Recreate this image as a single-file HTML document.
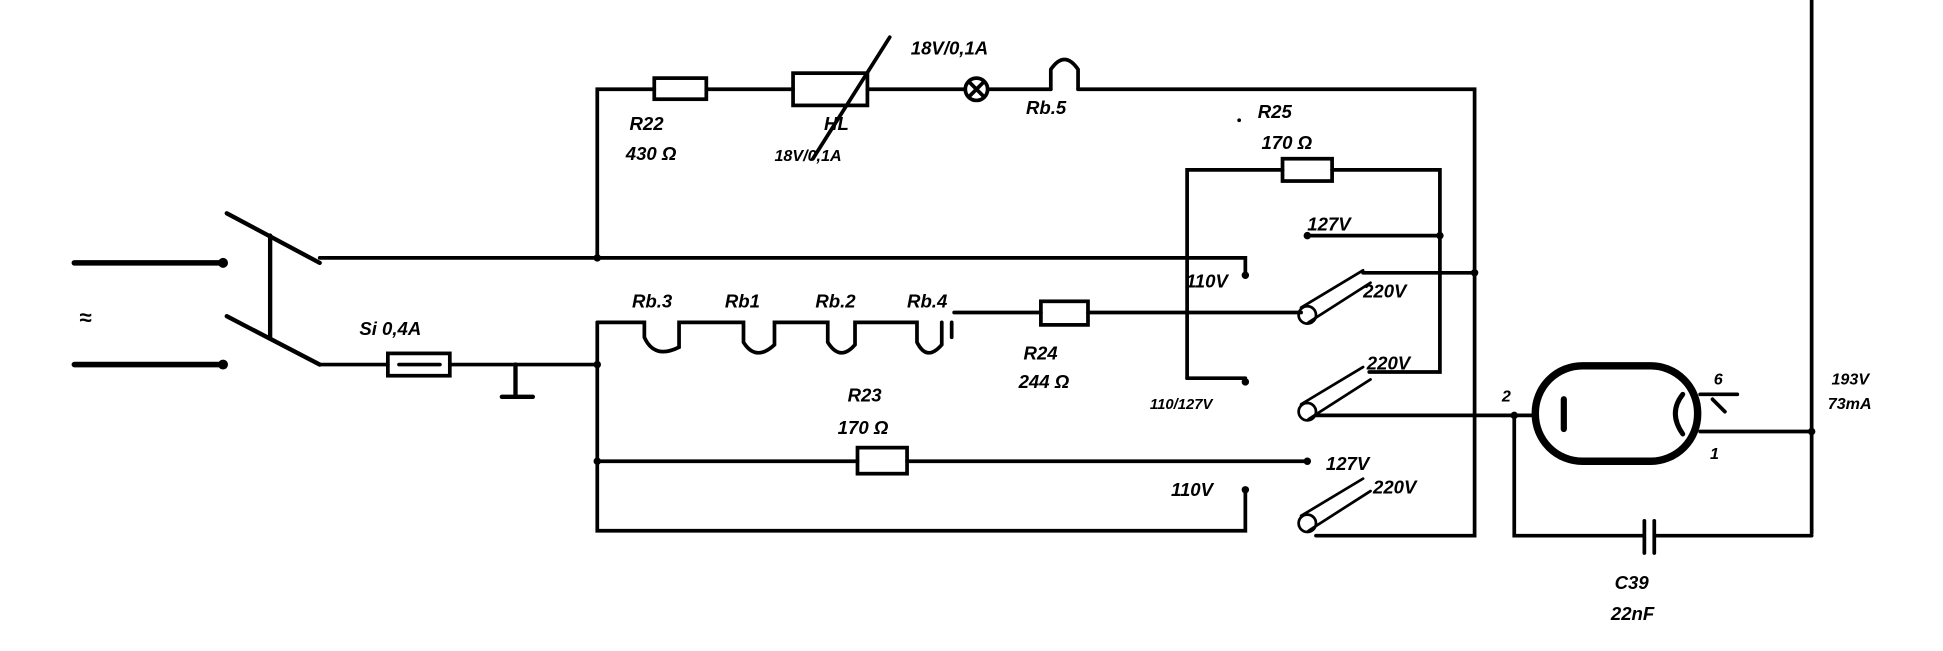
<!DOCTYPE html>
<html><head><meta charset="utf-8"><style>
html,body{margin:0;padding:0;background:#fff;width:1943px;height:651px;overflow:hidden}
svg{display:block}
text{font-family:"Liberation Sans",sans-serif;font-style:italic;font-weight:bold;fill:#000}
</style></head><body>
<svg width="1943" height="651" viewBox="0 0 1568 525" preserveAspectRatio="none" xmlns="http://www.w3.org/2000/svg">
<g stroke="#000" stroke-width="3" fill="none" stroke-linecap="round">
<line x1="1462" y1="0" x2="1462" y2="430"/>
<path d="M482 208 V72 H528 M570 72 H640 M700 72 H778 M798 72 H848 M870 72 H1190 V432 H1062"/>
<rect x="528" y="63" width="42" height="17"/>
<rect x="640" y="59" width="60" height="26"/>
<line x1="656" y1="128" x2="718" y2="30"/>
<circle cx="788" cy="72" r="9"/>
<line x1="782" y1="66" x2="794" y2="78"/><line x1="794" y1="66" x2="782" y2="78"/>
<path d="M848 72 V56 Q859 40 870 56 V72"/>
<line x1="60" y1="212" x2="180" y2="212" stroke-width="4.5"/>
<line x1="60" y1="294" x2="180" y2="294" stroke-width="4.5"/>
<circle cx="180" cy="212" r="2.5" fill="#000"/><circle cx="180" cy="294" r="2.5" fill="#000"/>
<line x1="183" y1="172" x2="258" y2="212" stroke-width="3.5"/>
<line x1="183" y1="255" x2="258" y2="294" stroke-width="3.5"/>
<line x1="218" y1="190" x2="218" y2="272" stroke-width="3.5"/>
<path d="M258 208 H1005 V222"/>
<path d="M258 294 H313 M363 294 H482"/>
<rect x="313" y="285" width="50" height="18"/>
<line x1="322" y1="294" x2="355" y2="294"/>
<path d="M416 294 V320 M405 320 H430" stroke-width="3.5"/>
<path d="M482 260 V428 H1005 V395"/>
<path d="M482 260 H520 V272 Q528 290 548 280 V260 H600 V276 Q610 292 625 278 V260 H668 V276 Q678 292 690 278 V260 H740 V276 Q748 292 760 278 V260 M768 260 V272 M770 252 H840 M878 252 H1050"/>
<rect x="840" y="243" width="38" height="19"/>
<path d="M958 305 V137 H1035 M1075 137 H1162 V300 H1105"/>
<rect x="1035" y="128" width="40" height="18"/>
<path d="M958 305 H1005"/>
<path d="M1055 190 H1162"/>
<path d="M1100 220 H1190"/>
<g stroke-width="2.2">
<path d="M1050 248 L1100 218 M1056 260 L1106 228"/><circle cx="1055" cy="254" r="7"/>
<path d="M1050 326 L1100 296 M1056 338 L1106 306"/><circle cx="1055" cy="332" r="7"/>
<path d="M1050 416 L1100 386 M1056 428 L1106 396"/><circle cx="1055" cy="422" r="7"/>
</g>
<path d="M1062 335 H1237"/>
<path d="M482 372 H692 M732 372 H1055"/>
<rect x="692" y="361" width="40" height="21"/>
<rect x="1239" y="295" width="131" height="77" rx="38" stroke-width="6"/>
<path d="M1262 322 V346" stroke-width="5"/>
<path d="M1358 318 Q1346 333 1358 350" stroke-width="4"/>
<path d="M1372 318 H1402 M1372 348 H1462 M1382 322 L1392 332"/>
<path d="M1222 335 V432 H1326 M1336 432 H1462"/>
<path d="M1327 420 V446 M1335 420 V446" stroke-width="3"/>
</g>
<g fill="#000">
<circle cx="482" cy="208" r="3"/><circle cx="482" cy="294" r="3"/><circle cx="482" cy="372" r="3"/>
<circle cx="1005" cy="222" r="3"/><circle cx="1005" cy="308" r="3"/><circle cx="1055" cy="190" r="3"/>
<circle cx="1055" cy="372" r="3"/><circle cx="1005" cy="395" r="3"/><circle cx="1162" cy="190" r="3"/>
<circle cx="1190" cy="220" r="3"/><circle cx="1222" cy="335" r="3"/><circle cx="1462" cy="348" r="3"/>
<circle cx="1000" cy="97" r="1.5"/>
</g>
<g font-size="15">
<text x="735" y="44">18V/0,1A</text>
<text x="828" y="92">Rb.5</text>
<text x="1015" y="95">R25</text>
<text x="1018" y="120">170 Ω</text>
<text x="508" y="105">R22</text>
<text x="505" y="129">430 Ω</text>
<text x="665" y="105">HL</text>
<text x="625" y="130" font-size="13">18V/0,1A</text>
<text x="1055" y="186">127V</text>
<text x="957" y="232">110V</text>
<text x="1100" y="240">220V</text>
<text x="510" y="248">Rb.3</text>
<text x="585" y="248">Rb1</text>
<text x="658" y="248">Rb.2</text>
<text x="732" y="248">Rb.4</text>
<text x="290" y="270">Si 0,4A</text>
<text x="826" y="290">R24</text>
<text x="822" y="313">244 Ω</text>
<text x="928" y="330" font-size="12">110/127V</text>
<text x="1103" y="298">220V</text>
<text x="684" y="324">R23</text>
<text x="676" y="350">170 Ω</text>
<text x="1070" y="379">127V</text>
<text x="945" y="400">110V</text>
<text x="1108" y="398">220V</text>
<text x="64" y="262" font-size="18">≈</text>
<text x="1212" y="324" font-size="13">2</text>
<text x="1383" y="310" font-size="13">6</text>
<text x="1380" y="370" font-size="13">1</text>
<text x="1478" y="310" font-size="13">193V</text>
<text x="1475" y="330" font-size="13">73mA</text>
<text x="1303" y="475">C39</text>
<text x="1300" y="500">22nF</text>
</g>
</svg>
</body></html>
